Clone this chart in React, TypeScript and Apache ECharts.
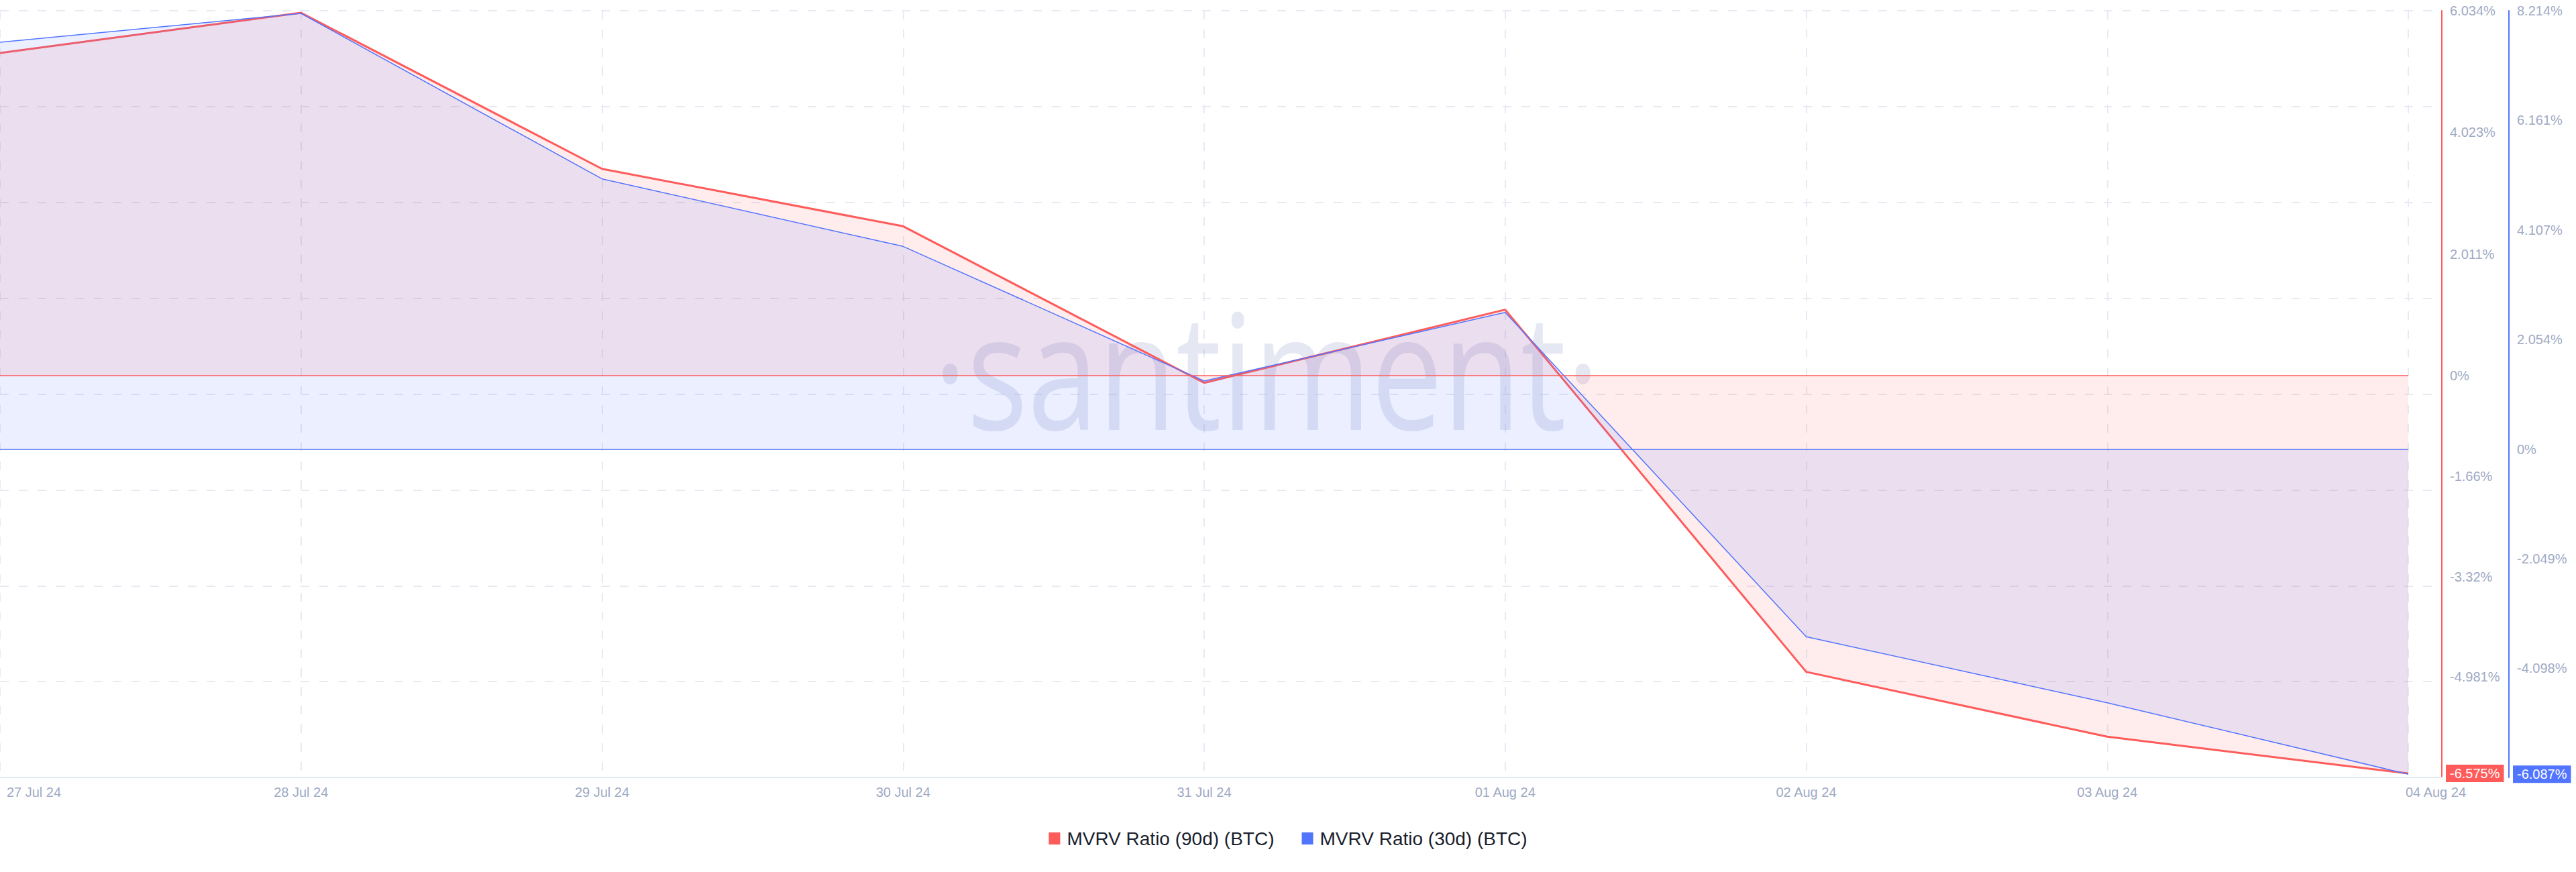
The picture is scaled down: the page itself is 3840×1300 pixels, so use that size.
import React, { useEffect, useRef } from "react";
import * as echarts from "echarts";

// ---- data ----
const dates: string[] = [
  "27 Jul 24",
  "28 Jul 24",
  "29 Jul 24",
  "30 Jul 24",
  "31 Jul 24",
  "01 Aug 24",
  "02 Aug 24",
  "03 Aug 24",
  "04 Aug 24",
];
const mvrv90: number[] = [5.335, 6.0, 3.42, 2.471, -0.117, 1.092, -4.896, -5.968, -6.575];
const mvrv30: number[] = [7.624, 8.164, 5.064, 3.8, 1.279, 2.564, -3.512, -4.748, -6.087];

const red90Ticks: number[] = [6.034, 4.023, 2.011, 0, -1.66, -3.32, -4.981, -6.575];
const blue30Ticks: number[] = [8.214, 6.161, 4.107, 2.054, 0, -2.049, -4.098, -6.087];
const red90Range: number[] = [-6.641, 6.034];
const blue30Range: number[] = [-6.147, 8.214];

const series90Name = "MVRV Ratio (90d) (BTC)";
const series30Name = "MVRV Ratio (30d) (BTC)";

// ---- style ----
const RED = "#ff5b5b";
const BLUE = "#5275ff";
const LABEL = "#9faac4";
const FONT = "'Liberation Sans', Arial, sans-serif";
const GRID_LINE = "#e8eaf3";

const near = (a: number, b: number) => Math.abs(a - b) < 1e-6;

function yLabel(lastValue: number, color: string, ticks: number[]) {
  return {
    customValues: ticks,
    margin: 6,
    formatter: (v: number) => {
      const s = `${+v.toFixed(3)}%`;
      return near(v, lastValue) ? `{h|${s}}` : `{n|${s}}`;
    },
    rich: {
      n: { padding: [0, 0, 0, 6], color: LABEL, fontSize: 20, fontFamily: FONT },
      h: {
        backgroundColor: color,
        color: "#ffffff",
        padding: [3, 6, 3, 6],
        fontSize: 20,
        lineHeight: 20,
        fontFamily: FONT,
      },
    },
  };
}

export default function App() {
  const ref = useRef<HTMLDivElement>(null);

  useEffect(() => {
    document.body.style.margin = "0";
    const chart = echarts.init(ref.current!, null, { renderer: "svg" });
    const last = dates.length - 1;
    const xPad = 0.1114; // room to the right of the last point, in days

    const option: any = {
      animation: false,
      backgroundColor: "#ffffff",
      grid: { left: 0, right: 200, top: 16, bottom: 141, containLabel: false },
      graphic: [
        {
          type: "text",
          x: 1888,
          y: 548,
          scaleX: 0.79,
          z: 1,
          silent: true,
          style: {
            text: "·santiment·",
            font: "240px 'Open Sans', 'Noto Sans', sans-serif",
            fill: "rgba(160,170,210,0.27)",
            textAlign: "center",
            textVerticalAlign: "middle",
          },
        },
      ],
      legend: {
        top: 1231,
        left: "center",
        icon: "rect",
        itemWidth: 17,
        itemHeight: 18,
        itemGap: 41,
        data: [series90Name, series30Name],
        textStyle: {
          fontSize: 28,
          color: "#1b1f2e",
          fontFamily: FONT,
          padding: [0, 0, 0, 5],
        },
      },
      xAxis: {
        type: "value",
        min: 0,
        max: last + xPad,
        interval: 1,
        axisLine: { show: true, onZero: false, lineStyle: { color: "#e3e7f1", width: 2 } },
        axisTick: { show: false },
        splitLine: { show: true, lineStyle: { color: GRID_LINE, width: 2, type: [13, 15] } },
        axisLabel: {
          margin: 12,
          color: LABEL,
          fontSize: 20,
          fontFamily: FONT,
          formatter: (v: number) => {
            const i = Math.round(v);
            if (!near(v, i) || i < 0 || i > last) return "";
            if (i === 0) return `{first|${dates[i]}}`;
            if (i === last) return `{last|${dates[i]}}`;
            return dates[i];
          },
          rich: {
            first: { padding: [0, 0, 0, 101], color: LABEL, fontSize: 20, fontFamily: FONT },
            last: { padding: [0, 0, 0, 82], color: LABEL, fontSize: 20, fontFamily: FONT },
          },
        },
      },
      yAxis: [
        {
          type: "value",
          position: "right",
          min: red90Range[0],
          max: red90Range[1],
          axisLine: { show: true, onZero: false, lineStyle: { color: RED, width: 2 } },
          axisTick: { show: false },
          splitLine: { show: false },
          axisLabel: yLabel(mvrv90[last], RED, red90Ticks),
        },
        {
          type: "value",
          position: "right",
          offset: 100,
          min: blue30Range[0],
          max: blue30Range[1],
          axisLine: { show: true, onZero: false, lineStyle: { color: BLUE, width: 2 } },
          axisTick: { show: false },
          splitLine: { show: false },
          axisLabel: yLabel(mvrv30[last], BLUE, blue30Ticks),
        },
        {
          type: "value",
          position: "left",
          min: 0,
          max: 8,
          interval: 1,
          axisLine: { show: false },
          axisTick: { show: false },
          axisLabel: { show: false },
          splitLine: { show: true, lineStyle: { color: GRID_LINE, width: 2, type: [13, 15] } },
        },
      ],
      series: [
        {
          name: series90Name,
          type: "line",
          yAxisIndex: 0,
          data: mvrv90.map((v, i) => [i, v]),
          symbol: "none",
          color: RED,
          itemStyle: { color: RED },
          lineStyle: { color: RED, width: 3 },
          areaStyle: { color: "rgba(255,91,91,0.16)", origin: "auto" },
          z: 2,
          markLine: {
            silent: true,
            symbol: "none",
            label: { show: false },
            lineStyle: { color: RED, width: 1.5, type: "solid" },
            data: [[{ coord: [0, 0] }, { coord: [last, 0] }]],
          },
        },
        {
          name: series30Name,
          type: "line",
          yAxisIndex: 1,
          data: mvrv30.map((v, i) => [i, v]),
          symbol: "none",
          color: BLUE,
          itemStyle: { color: BLUE },
          lineStyle: { color: BLUE, width: 1.5 },
          areaStyle: { color: "rgba(82,117,255,0.17)", origin: "auto" },
          z: 3,
          markLine: {
            silent: true,
            symbol: "none",
            label: { show: false },
            lineStyle: { color: BLUE, width: 1.5, type: "solid" },
            data: [[{ coord: [0, 0] }, { coord: [last, 0] }]],
          },
        },
      ],
    };

    chart.setOption(option);
    return () => chart.dispose();
  }, []);

  return (
    <div
      ref={ref}
      style={{ position: "fixed", left: 0, top: 0, width: 3840, height: 1300 }}
    />
  );
}
